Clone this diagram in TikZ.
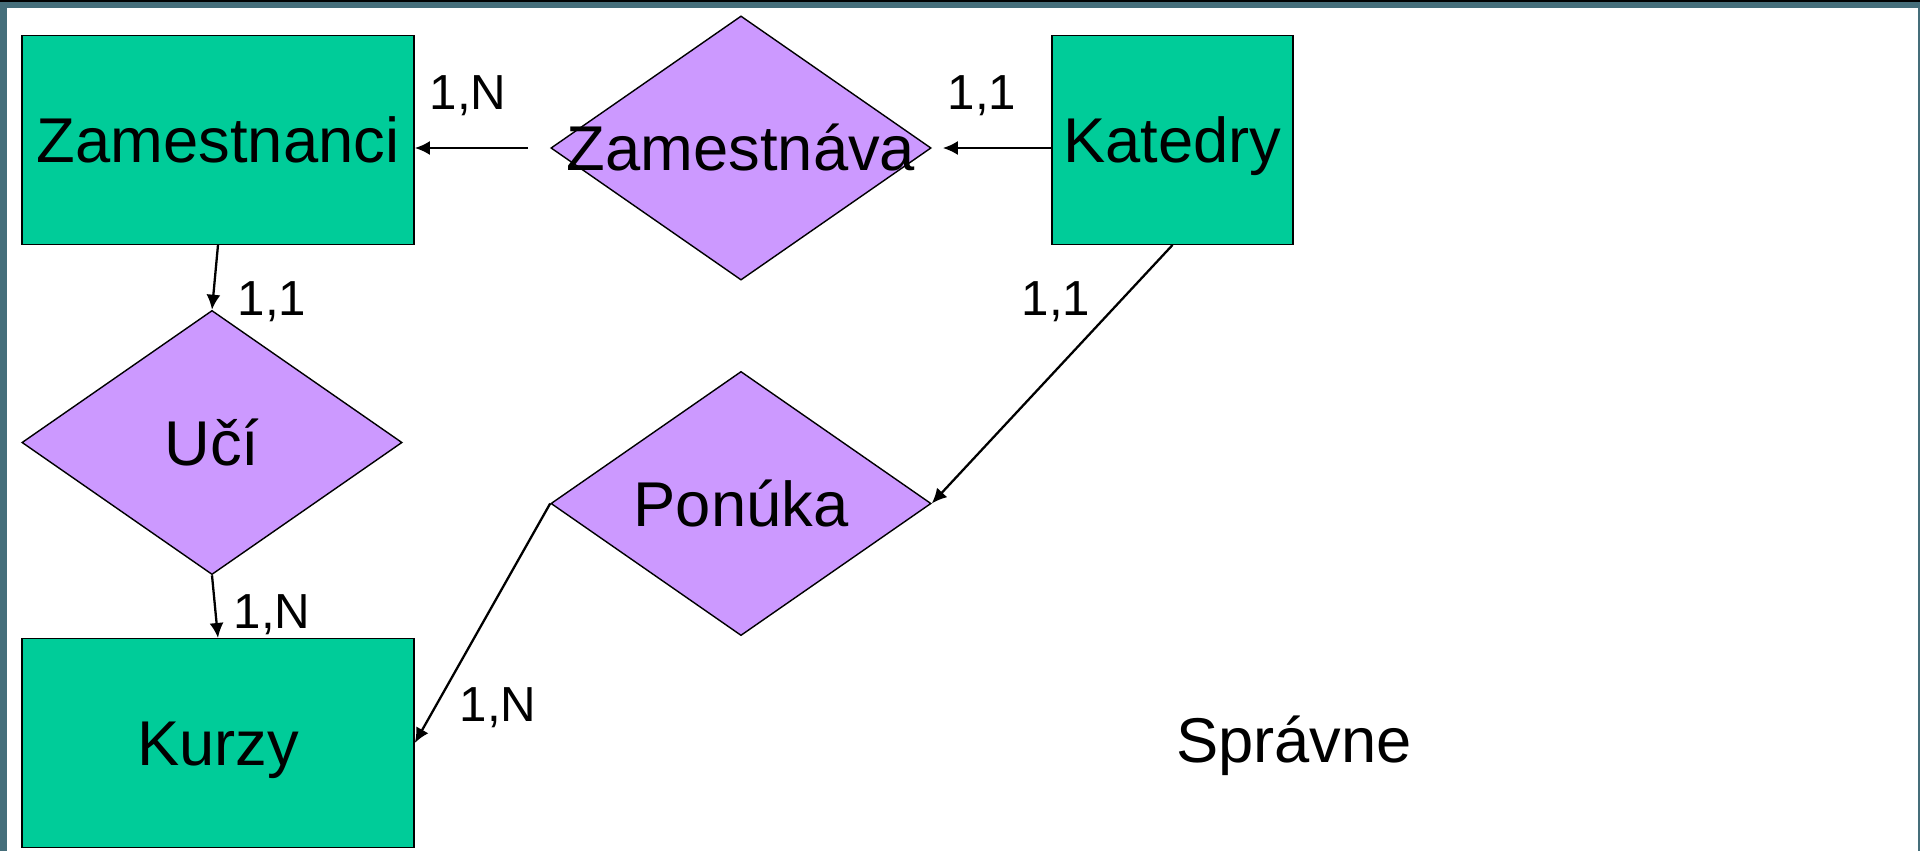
\documentclass[tikz,border=0pt]{standalone}
\usepackage{fontspec}
\setmainfont{Liberation Sans}
\usetikzlibrary{shapes.geometric,arrows.meta}

\definecolor{entgreen}{RGB}{0,204,153}
\definecolor{relpurple}{RGB}{204,153,255}
\definecolor{frameteal}{RGB}{69,110,122}

\begin{document}
\begin{tikzpicture}
    [x=0.01cm, y=-0.01cm,
      every node/.style={font=\fontsize{18}{22}\selectfont,
        text height=0.45cm, text depth=0pt},
      every label/.style={text height=0.45cm, text depth=0pt},
      ent/.style={rectangle, draw=black, line width=0.4pt, fill=entgreen,
        minimum height=2.085cm, inner sep=0pt},
      rel/.style={diamond, draw=black, line width=0.4pt, fill=relpurple,
        minimum width=3.8cm, minimum height=2.64cm, inner sep=0pt,
        text height=0pt},
      card/.style={font=\fontsize{14}{17}\selectfont, inner sep=0pt,
        text height=0.355cm},
      arr/.style={-{Latex[length=0.15cm,width=0.14cm]}, line width=0.65pt}]

    \useasboundingbox (0,0) rectangle (1920,851);
    \fill[frameteal] (0,0) rectangle (1920,851);
    \fill[white] (7,8) rectangle (1918,851);
    \fill[black] (0,0) rectangle (1920,2);

    \node (zam) [ent, minimum width=3.92cm] at (218,140) {Zamestnanci};
    \node (kur) [ent, minimum width=3.92cm] at (218,743) {Kurzy};
    \node (kat) [ent, minimum width=2.41cm] at (1172.5,140) {Katedry};
    \node (zamv) [rel, label={center:Zamestnáva}] at (741,148) {};
    \node (uci) [rel, label={center:Učí}] at (212,442.5) {};
    \node (pon) [rel, label={center:Ponúka}] at (741,503.5) {};

    \draw[arr] ([xshift=-0.22cm]zamv.west) -- (zamv.west -| zam.east);
    \draw[arr] (zamv.east -| kat.west) -- ([xshift=0.11cm]zamv.east);
    \draw[arr] (zam.south) -- (uci.north);
    \draw[arr] (uci.south) -- (kur.north);
    \draw[arr] (kat.south) -- (pon.east);
    \draw[arr] (pon.west) -- (kur.east);

    \node (c1) [card] at (468,92) {1,N};
    \node (c2) [card] at (982,92) {1,1};
    \node (c3) [card] at (272,298) {1,1};
    \node (c4) [card] at (1056,298) {1,1};
    \node (c5) [card] at (272,611) {1,N};
    \node (c6) [card] at (498,704) {1,N};
    \node (spr) at (1294,740) {Správne};
  \end{tikzpicture}
\end{document}
